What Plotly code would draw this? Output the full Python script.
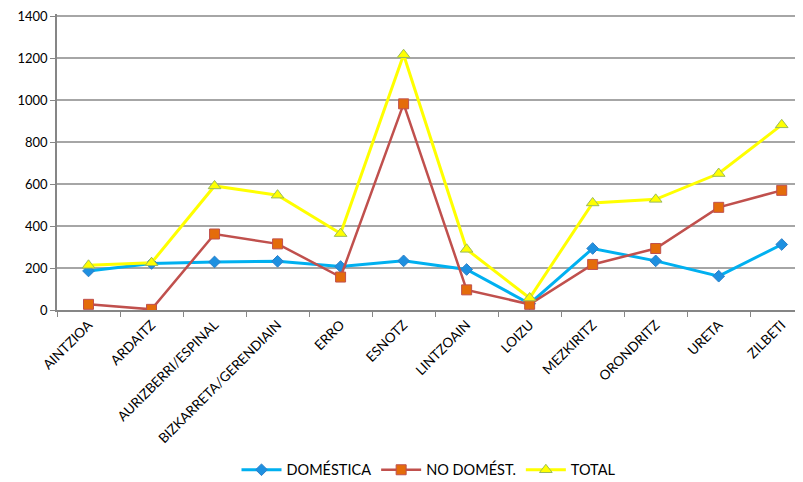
import plotly.graph_objects as go

categories = ["AINTZIOA", "ARDAITZ", "AURIZBERRI/ESPINAL", "BIZKARRETA/GERENDIAIN", "ERRO",
              "ESNOTZ", "LINTZOAIN", "LOIZU", "MEZKIRITZ", "ORONDRITZ", "URETA", "ZILBETI"]
domestica = [186, 222, 229, 232, 207, 234, 193, 30, 293, 234, 161, 312]
no_domest = [27, 3, 362, 315, 157, 982, 96, 27, 217, 293, 489, 570]
total = [213, 225, 591, 547, 364, 1216, 289, 57, 510, 527, 650, 882]

font = "Lato, 'Open Sans', sans-serif"

fig = go.Figure()
fig.add_trace(go.Scatter(x=categories, y=domestica, name="DOMÉSTICA", mode="lines+markers",
                         line=dict(color="#00B0F0", width=3),
                         marker=dict(symbol="diamond", size=9, color="#1E90E0",
                                     line=dict(color="#2C7FC8", width=1))))
fig.add_trace(go.Scatter(x=categories, y=no_domest, name="NO DOMÉST.", mode="lines+markers",
                         line=dict(color="#C0504D", width=2.5),
                         marker=dict(symbol="square", size=10, color="#E46C0A",
                                     line=dict(color="#C0504D", width=1))))
fig.add_trace(go.Scatter(x=categories, y=total, name="TOTAL", mode="lines+markers",
                         line=dict(color="#FFFF00", width=3),
                         marker=dict(symbol="triangle-up", size=11, color="#FFFF00",
                                     line=dict(color="#9BBB59", width=1))))

fig.update_layout(
    width=795, height=474,
    margin=dict(l=49, r=3, t=6, b=172, autoexpand=False),
    paper_bgcolor="white", plot_bgcolor="white",
    font=dict(family=font, size=12, color="#000000"),
    showlegend=True,
    legend=dict(orientation="h", x=0.5, xanchor="center", y=-0.54, yanchor="middle",
                font=dict(size=14.5), itemwidth=40),
    xaxis=dict(type="category", range=[-0.5, 11.29], tickangle=-45, automargin=False,
               showgrid=False, showline=True, linecolor="#868686", linewidth=1.5,
               ticks="outside", tickson="boundaries", ticklen=5, tickcolor="#868686",
               tickfont=dict(size=13.5)),
    yaxis=dict(range=[0, 1410], tickvals=[0, 200, 400, 600, 800, 1000, 1200, 1400],
               showgrid=True, gridcolor="#A6A6A6", gridwidth=1.5,
               automargin=False, ticklabeloverflow="allow",
               showline=True, linecolor="#868686", linewidth=1.5, zeroline=False,
               ticks="outside", ticklen=5, tickcolor="#868686",
               tickfont=dict(size=13)),
)

fig.write_html("out.html")
